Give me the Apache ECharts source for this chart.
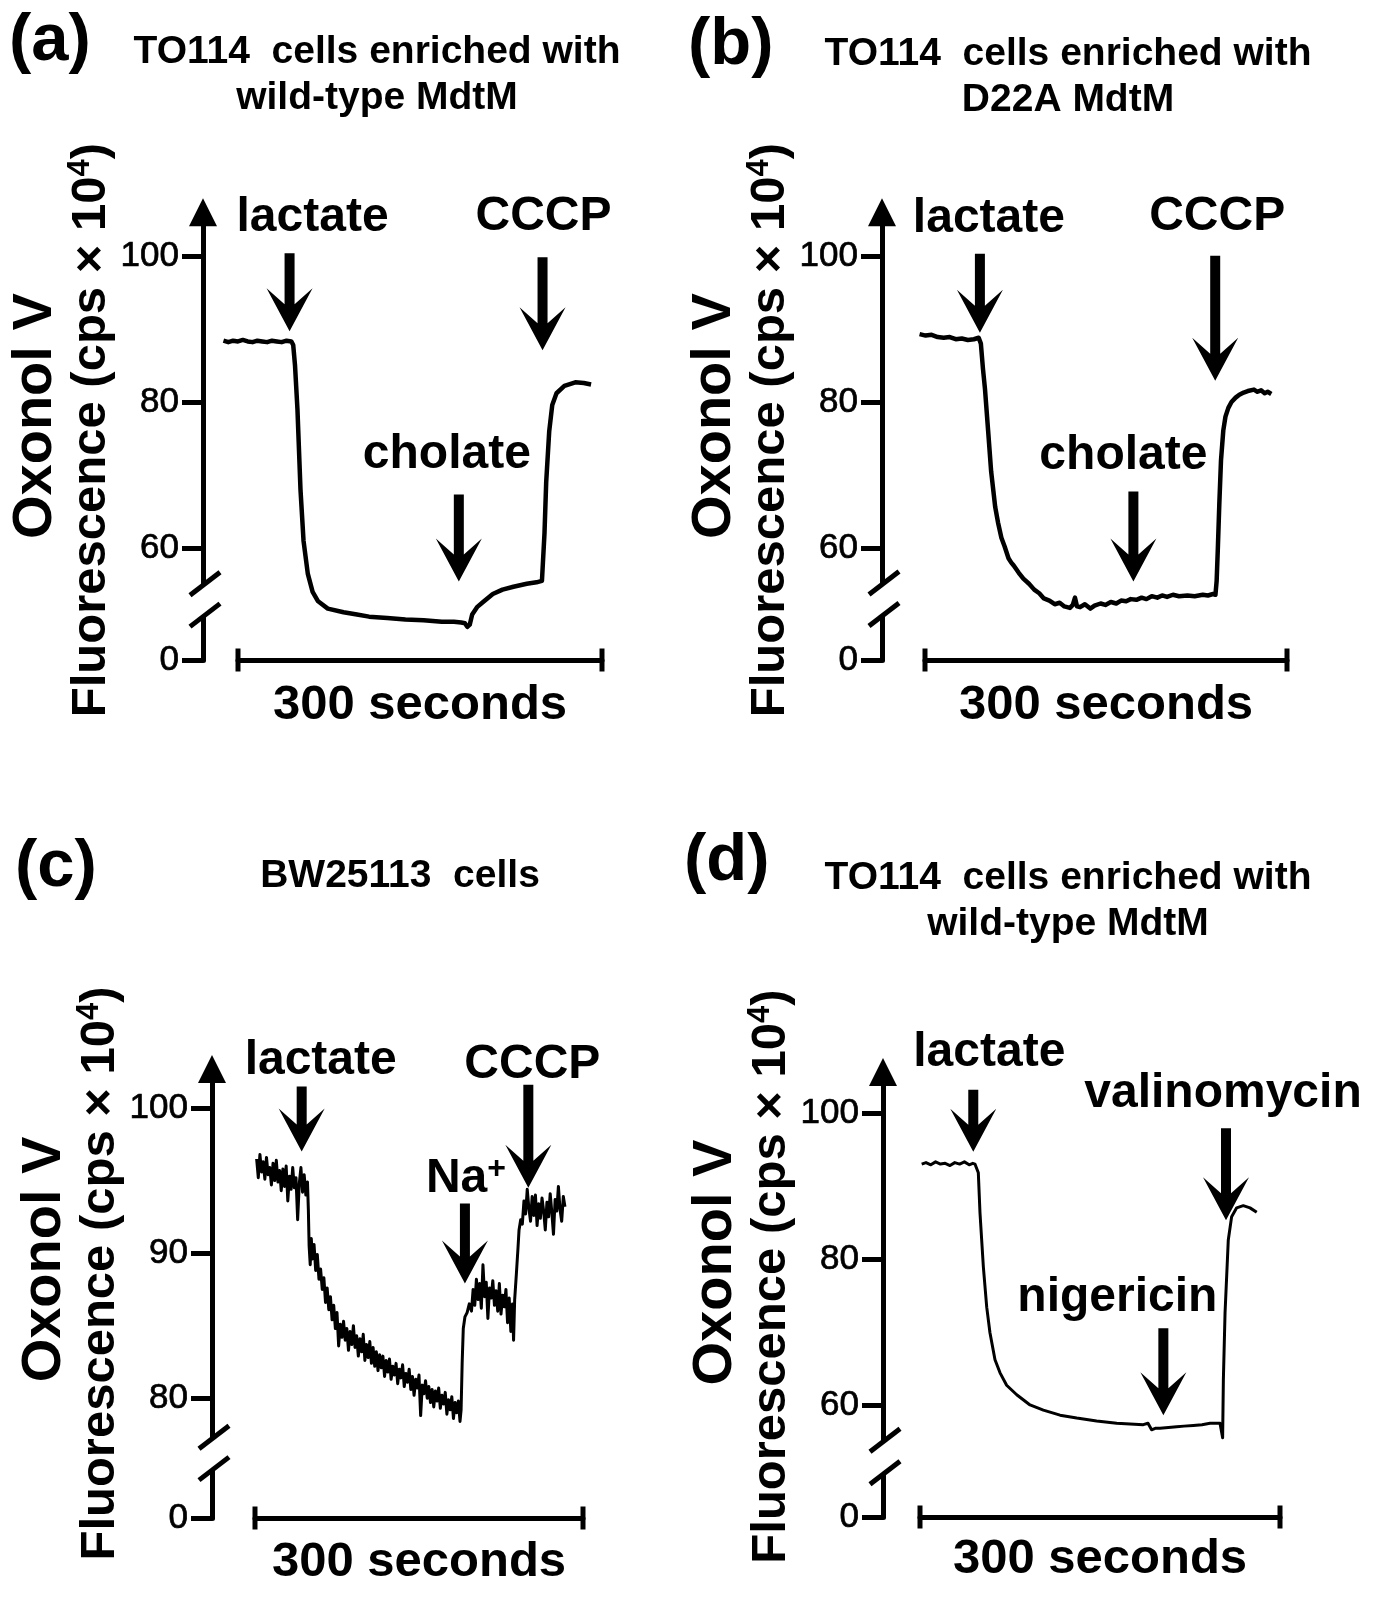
<!DOCTYPE html>
<html>
<head>
<meta charset="utf-8">
<script src="https://cdn.jsdelivr.net/npm/echarts@6.0.0/dist/echarts.min.js"></script>
<style>
html,body{margin:0;padding:0;background:#fff;}
#chart{width:1388px;height:1608px;}
</style>
</head>
<body>
<div id="chart"></div>
<script>
// ================= DATA =================
const panelLabels = ['(a)', '(b)', '(c)', '(d)'];
const panelTitles = [
  'TO114  cells enriched with\nwild-type MdtM',
  'TO114  cells enriched with\nD22A MdtM',
  'BW25113  cells',
  'TO114  cells enriched with\nwild-type MdtM'
];
const yAxisTitle = ['Oxonol V', 'Fluorescence (cps × 10', '4', ')'];
const scaleBarLabel = '300 seconds';

// y tick labels per panel
const yTicksA = [0, 60, 80, 100];
const yTicksB = [0, 60, 80, 100];
const yTicksC = [0, 80, 90, 100];
const yTicksD = [0, 60, 80, 100];

// broken-axis ranges [start, end] per panel
const yBreakA = [1, 45.66];
const yBreakB = [1, 45.66];
const yBreakC = [3.3, 77.2];
const yBreakD = [1, 45.65];

// 300-second scale bar [start, end] in seconds
const scaleBarA = [12, 312];
const scaleBarB = [4.5, 304.5];
const scaleBarC = [0, 300];
const scaleBarD = [0, 300];

// traces: [time (s), fluorescence (cps x 10^4)]
const traceA = [[0,88.4],[4,88.2],[8,88.4],[12,88.3],[16,88.5],[20,88.3],[24,88.2],[28,88.4],[32,88.3],[36,88.2],[40,88.4],[44,88.3],[48,88.2],[52,88.4],[56,88.3],[57.5,87.8],[59,85.0],[61,79.0],[63.5,68.0],[66,61.0],[69.5,56.5],[73.5,54.0],[78,52.7],[86,51.7],[99,51.2],[110,50.9],[120,50.6],[135,50.4],[150,50.2],[165,50.1],[180,49.9],[190,49.9],[196,49.8],[199,49.7],[201,49.2],[203,49.5],[205,50.9],[209,51.9],[214,52.6],[222,53.7],[230,54.3],[239,54.7],[250,55.1],[258,55.3],[262.5,55.5],[263.8,55.4],[264.6,62.0],[266,69.0],[268.5,76.0],[271,79.6],[274.5,81.2],[281,82.2],[290,82.7],[297,82.6],[303,82.4]];

const traceB = [[0,89.3],[5,89.1],[10,89.2],[15,88.9],[20,88.8],[25,88.9],[30,88.6],[35,88.7],[40,88.5],[45,88.6],[49,88.8],[50.8,88.0],[52.5,84.6],[54.2,81.8],[56.8,76.1],[59.3,70.5],[62.7,65.6],[65,63.5],[67.8,61.4],[70.5,60.2],[73.7,58.6],[76,58.0],[78,57.6],[82.2,56.6],[86,55.8],[90.7,55.1],[95,54.3],[99.2,53.8],[103,53.1],[107.6,52.8],[112,52.3],[116.1,52.5],[120,52.0],[124.6,51.8],[127,52.2],[128.8,53.2],[130.5,52.0],[133,51.9],[137,52.3],[141.5,51.7],[145,52.1],[150,52.4],[154,52.2],[158.5,52.6],[163,52.4],[167,52.8],[171.2,52.7],[175,53.0],[179.7,52.9],[184,53.2],[188,53.0],[192.4,53.4],[197,53.2],[201,53.5],[205.1,53.3],[210,53.6],[215,53.4],[222,53.5],[228,53.4],[234.7,53.6],[239,53.5],[243.2,53.7],[245.2,53.6],[246.2,55.5],[247.2,60.0],[248.4,66.0],[249.8,72.0],[251.7,76.1],[253.5,78.0],[255.9,79.2],[258.5,80.0],[261.9,80.6],[265,81.0],[268.6,81.3],[272,81.5],[277.1,81.7],[280,81.4],[283,81.6],[286,81.2],[288.5,81.4],[291.5,81.1]];

const traceC = [[1.5,96.5],[3,95.2],[4.5,96.8],[6,95.6],[7.5,96.3],[9,95.1],[10.5,96.6],[12,95.4],[13.5,95.9],[15,94.7],[16.5,96.2],[18,95.0],[19.5,96.4],[21,94.9],[22.5,95.7],[24,94.3],[25.5,95.8],[27,94.6],[28.5,96.0],[30,93.6],[31.5,95.3],[33,94.4],[34.5,95.9],[36,94.5],[37.5,95.2],[39,92.3],[40.5,94.8],[42,95.9],[43.5,94.2],[45,95.4],[46.5,94.0],[48,94.9],
[48.8,93.0],[49.5,90.5],[50.5,89.2],[51.5,91.0],[52.5,89.6],[54,90.6],[55.5,88.8],[57,89.9],[58.5,88.2],[60,88.9],[61.5,87.5],[63,88.3],[64.5,86.6],[66,87.6],[67.5,86.1],[69,87.0],[70.5,85.4],[72,86.4],[73.5,84.8],[75,85.9],[76.5,83.6],[78,85.1],[79.5,84.2],[81,85.3],[82.5,84.0],[84,84.8],[85.5,83.3],[87,84.6],[88.5,83.7],[90,85.0],[91.5,83.5],[93,84.3],[94.5,82.9],[96,84.1],[97.5,83.2],[99,84.4],[100.5,82.6],[102,83.7],[103.5,82.8],[105,83.9],[106.5,82.4],[108,83.5],[109.5,82.2],[111,83.2],[112.5,81.9],[114,83.0],[115.5,82.1],[117,82.9],[118.5,81.5],[120,82.6],[121.5,81.8],[123,82.7],[124.5,81.3],[126,82.2],[127.5,81.6],[129,82.4],[130.5,81.0],[132,82.0],[133.5,81.4],[135,82.3],[136.5,80.8],[138,81.7],[139.5,81.1],[141,82.0],[142.5,80.6],[144,81.5],[145.5,80.2],[147,81.3],[148.5,80.7],[150,81.6],[151.5,78.8],[153,80.9],[154.5,80.3],[156,81.2],[157.5,80.0],[159,80.8],[160.5,79.7],[162,80.6],[163.5,79.4],[165,80.5],[166.5,79.8],[168,80.7],[169.5,79.3],[171,80.2],[172.5,79.6],[174,80.4],[175.5,78.9],[177,79.9],[178.5,79.2],[180,80.1],[181.5,78.6],[183,79.7],[184.5,79.0],[186,79.8],[187.5,78.4],[188.5,79.2],
[189.5,82.5],[190.5,84.8],[192,85.6],[194,85.9],[196,86.5],[198,86.0],[199.5,87.5],[201,86.4],[202.5,88.2],[204,86.8],[205.5,87.9],[207,86.2],[208.5,89.2],[210,87.0],[211.5,88.0],[213,85.5],[214.5,87.6],[216,86.9],[217.5,88.1],[219,86.4],[220.5,87.4],[222,86.0],[223.5,87.9],[225,85.8],[226.5,87.1],[228,86.3],[229.5,87.5],[231,85.2],[232.5,86.9],[234,84.6],[235.5,86.5],[236.5,84.0],[237.5,86.8],
[239,88.5],[240.5,90.3],[241.5,91.6],[243,92.3],[244.5,92.0],[246,93.6],[247.5,92.7],[249,94.4],[250.5,93.1],[252,92.2],[253.5,93.9],[255,92.6],[256.5,94.0],[258,91.9],[259.5,93.4],[261,92.4],[262.5,93.8],[264,92.9],[265.5,91.6],[267,93.5],[268.5,92.5],[270,94.1],[271.5,92.8],[273,91.3],[274.5,93.7],[276,92.9],[277.5,94.6],[279,93.0],[280.5,92.2],[282,93.9],[283.5,93.2]];

const traceD = [[1.4,93.0],[5,93.2],[9,92.9],[13,93.3],[17,93.0],[21,93.1],[25,92.8],[29,93.2],[33,93.0],[37,93.3],[41,92.9],[44,93.1],[45.8,93.0],[48.6,91.8],[50,86.3],[52.8,78.9],[55.6,73.4],[58.3,69.9],[62.5,66.2],[66.7,64.4],[72.2,62.7],[80.6,61.4],[91.7,60.0],[102.8,59.3],[116.7,58.6],[130.6,58.2],[147.2,57.8],[163.9,57.5],[175,57.4],[186.1,57.3],[190,57.5],[193,56.6],[196,56.8],[200,56.8],[207,56.9],[213.9,57.0],[220,57.1],[227.8,57.2],[235,57.3],[241.7,57.5],[250,57.5],[252.2,55.5],[252.8,63.4],[254.2,72.6],[256.9,82.6],[259.7,85.8],[263.9,87.0],[269.4,87.3],[275,87.0],[280.6,86.4]];

// additions: names and times (s)
const eventNamesA = ['lactate', 'cholate', 'CCCP'];
const eventTimesA = [54.5, 194, 263];
const eventNamesB = ['lactate', 'cholate', 'CCCP'];
const eventTimesB = [50, 177.2, 245];
const eventNamesC = ['lactate', 'Na+', 'CCCP'];
const eventTimesC = [42.7, 192, 250];
const eventNamesD = ['lactate', 'nigericin', 'valinomycin'];
const eventTimesD = [44.4, 202.8, 255];

// ================= LAYOUT / STYLE =================
const FONT = '"Liberation Sans", Arial, Helvetica, sans-serif';
const panels = [
  { ticks: yTicksA, brk: yBreakA, bar: scaleBarA, trace: traceA, names: eventNamesA, times: eventTimesA,
    barLeft: 238, barWidth: 364, axisX: 203, top: 212.2, bottom: 660, yMax: 106, gap: 0, lineW: 4.5, xNameGap: 21,
    breakMarks: [54.9, 50.6], label: {x: 9, y: 8}, title: {x: 377, y: 29}, nameShift: 12,
    arrows: [ {tip: 89.7, len: 78, dx: 23, dist: 11}, {tip: 55.4, len: 87, dx: -12, dist: 16}, {tip: 87.1, len: 93, dx: 1, dist: 16} ] },
  { ticks: yTicksB, brk: yBreakB, bar: scaleBarB, trace: traceB, names: eventNamesB, times: eventTimesB,
    barLeft: 925, barWidth: 362, axisX: 882, top: 212.2, bottom: 660, yMax: 106, gap: 0, lineW: 4.5, xNameGap: 21,
    breakMarks: [55.0, 50.7], label: {x: 688, y: 12}, title: {x: 1068, y: 31}, nameShift: 12,
    arrows: [ {tip: 89.5, len: 79, dx: 9, dist: 11}, {tip: 55.4, len: 90, dx: -10, dist: 12}, {tip: 82.9, len: 125, dx: 2, dist: 15} ] },
  { ticks: yTicksC, brk: yBreakC, bar: scaleBarC, trace: traceC, names: eventNamesC, times: eventTimesC,
    barLeft: 255, barWidth: 328, axisX: 212, top: 1068.9, bottom: 1518, yMax: 102.7, gap: 2.16, lineW: 3, xNameGap: 20,
    breakMarks: [77.2, 3.3], label: {x: 15, y: 834}, title: {x: 400, y: 853}, nameShift: 40,
    arrows: [ {tip: 97.0, len: 65, dx: 19, dist: 2}, {tip: 87.9, len: 80, dx: 1, dist: 0}, {tip: 94.5, len: 103, dx: 4, dist: -4} ] },
  { ticks: yTicksD, brk: yBreakD, bar: scaleBarD, trace: traceD, names: eventNamesD, times: eventTimesD,
    barLeft: 920, barWidth: 360, axisX: 883, top: 1072.1, bottom: 1517, yMax: 105.6, gap: 0, lineW: 3, xNameGap: 18,
    breakMarks: [54.95, 50.5], label: {x: 684, y: 828}, title: {x: 1068, y: 855}, nameShift: 36,
    arrows: [ {tip: 94.7, len: 62, dx: 16, dist: 13}, {tip: 58.6, len: 87, dx: -46, dist: 6}, {tip: 85.3, len: 92, dx: -3, dist: 11} ] }
];

function arrowPath(L) {
  const h = 43, n = 27;
  return 'path://M18,0L28,0L28,' + (L - n) + 'L46,' + (L - h) + 'L23,' + L + 'L0,' + (L - h) + 'L18,' + (L - n) + 'Z';
}

const chart = echarts.init(document.getElementById('chart'), null, {renderer: 'canvas'});

const option = {
  animation: false,
  backgroundColor: '#fff',
  textStyle: {fontFamily: FONT, color: '#000'},
  title: [],
  grid: [], xAxis: [], yAxis: [], series: []
};

const N = panels.length;
// main plotting grids (time axis starts at 0 = start of the trace)
panels.forEach((p, i) => {
  const pxPerSec = p.barWidth / (p.bar[1] - p.bar[0]);
  const left = p.barLeft - p.bar[0] * pxPerSec;
  p.gridLeft = left;
  p.yOffset = left - p.axisX;
  option.title.push({
    text: panelLabels[i], left: p.label.x, top: p.label.y, padding: 0,
    textStyle: {fontFamily: FONT, fontSize: 67, fontWeight: 'bold', color: '#000'}
  });
  option.title.push({
    text: panelTitles[i], left: p.title.x, top: p.title.y, padding: 0, textAlign: 'center',
    textStyle: {fontFamily: FONT, fontSize: 39, fontWeight: 'bold', color: '#000', lineHeight: 46}
  });
  option.grid.push({left: left, top: p.top, width: p.bar[1] * pxPerSec, height: p.bottom - p.top});
  option.xAxis.push({
    type: 'value', gridIndex: i, min: 0, max: p.bar[1], show: false
  });
  option.yAxis.push({
    type: 'value', gridIndex: i, min: 0, max: p.yMax, offset: p.yOffset, position: 'left',
    breaks: [{start: p.brk[0], end: p.brk[1], gap: p.gap}],
    breakArea: {show: false},
    axisLine: {show: true, onZero: false, lineStyle: {color: '#000', width: 5},
      symbol: ['none', 'triangle'], symbolSize: [28, 28]},
    axisTick: {show: true, length: 21, lineStyle: {color: '#000', width: 5}, customValues: p.ticks},
    axisLabel: {show: true, customValues: p.ticks, fontFamily: FONT, fontSize: 35, color: '#000', margin: 24,
      textBorderColor: '#000', textBorderWidth: 0.7},
    splitLine: {show: false},
    name: '{o|' + yAxisTitle[0] + '}\n{t|' + yAxisTitle[1] + '}{s|' + yAxisTitle[2] + '}{t|' + yAxisTitle[3] + '}',
    nameLocation: 'middle', nameRotate: 90, nameGap: 78,
    nameTextStyle: {
      padding: [0, 0, 0, p.nameShift],
      rich: {
        o: {fontFamily: FONT, fontSize: 56, fontWeight: 'bold', color: '#000', lineHeight: 58, padding: [0, 0, 0, 28]},
        t: {fontFamily: FONT, fontSize: 49, fontWeight: 'bold', color: '#000', lineHeight: 54},
        s: {fontFamily: FONT, fontSize: 31, fontWeight: 'bold', color: '#000', lineHeight: 28, verticalAlign: 'top'}
      }
    }
  });
  const marks = p.names.map((nm, k) => {
    const a = p.arrows[k];
    const isNa = nm === 'Na+';
    return {
      coord: [p.times[k], a.tip],
      symbol: arrowPath(a.len), symbolSize: [46, a.len], symbolOffset: [0, -a.len / 2],
      itemStyle: {color: '#000'},
      label: {
        show: true, position: 'top', distance: a.dist, offset: [a.dx, 0],
        formatter: isNa ? '{n|Na}{p|+}' : nm,
        fontFamily: FONT, fontSize: 48, fontWeight: 'bold', color: '#000',
        rich: isNa ? {
          n: {fontFamily: FONT, fontSize: 48, fontWeight: 'bold', color: '#000', lineHeight: 50},
          p: {fontFamily: FONT, fontSize: 32, fontWeight: 'bold', color: '#000', lineHeight: 28, verticalAlign: 'top'}
        } : undefined
      }
    };
  });
  option.series.push({
    type: 'line', xAxisIndex: i, yAxisIndex: i, data: p.trace,
    showSymbol: false, symbol: 'none', silent: true,
    lineStyle: {color: '#000', width: p.lineW, join: 'round'},
    emphasis: {disabled: true},
    markPoint: {silent: true, animation: false, data: marks}
  });
});

// scale-bar grids: the 300-second bar is a time axis of its own
panels.forEach((p, i) => {
  option.grid.push({left: p.barLeft, width: p.barWidth, top: p.bottom - 10, height: 10});
  option.xAxis.push({
    type: 'value', gridIndex: N + i, min: p.bar[0], max: p.bar[1], position: 'bottom',
    axisLine: {show: true, onZero: false, lineStyle: {color: '#000', width: 5},
      symbol: ['rect', 'rect'], symbolSize: [23, 5]},
    axisTick: {show: false}, axisLabel: {show: false}, splitLine: {show: false},
    name: scaleBarLabel, nameLocation: 'middle', nameGap: p.xNameGap,
    nameTextStyle: {fontFamily: FONT, fontSize: 49, fontWeight: 'bold', color: '#000'}
  });
  option.yAxis.push({type: 'value', gridIndex: N + i, show: false});
});

chart.setOption(option);

// axis-break marks (two slashes across the y axis)
const gfx = [];
panels.forEach((p, i) => {
  const ax = p.axisX;
  const yU = chart.convertToPixel({yAxisIndex: i}, p.breakMarks[0]);
  const yL = chart.convertToPixel({yAxisIndex: i}, p.breakMarks[1]);
  gfx.push({type: 'rect', z: 100, shape: {x: ax - 6, y: yU, width: 12, height: yL - yU}, style: {fill: '#fff'}});
  gfx.push({type: 'line', z: 101, shape: {x1: ax - 13, y1: yU + 10, x2: ax + 17, y2: yU - 13}, style: {stroke: '#000', lineWidth: 5}});
  gfx.push({type: 'line', z: 101, shape: {x1: ax - 13, y1: yL + 10, x2: ax + 17, y2: yL - 13}, style: {stroke: '#000', lineWidth: 5}});
});
chart.setOption({graphic: gfx});
</script>
</body>
</html>
